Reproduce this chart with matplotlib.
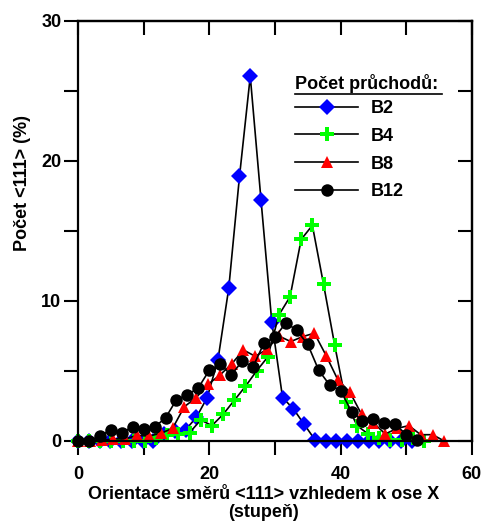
import matplotlib
matplotlib.use("Agg")
import matplotlib.pyplot as plt
from matplotlib.lines import Line2D

# ===============================
# Data
# ===============================
x_b2 = [0.0, 1.64, 3.28, 4.92, 6.56, 8.2, 9.84, 11.48, 13.12, 14.76, 16.4, 18.04,
        19.68, 21.32, 22.96, 24.6, 26.24, 27.88, 29.52, 31.16, 32.8, 34.44, 36.08,
        37.72, 39.36, 41.0, 42.64, 44.28, 45.92, 47.56, 49.2, 50.84]
y_b2 = [0, 0, 0, 0, 0, 0, 0, 0, 0.5, 0.7, 0.8, 1.7, 3.1, 5.8, 10.9, 18.9, 26.05,
        17.2, 8.5, 3.1, 2.3, 1.2, 0.1, 0, 0, 0, 0, 0, 0, 0, 0, 0]

x_b4 = [0.0, 1.7, 3.4, 5.1, 6.8, 8.5, 10.2, 11.9, 13.6, 15.3, 17.0, 18.7, 20.4,
        22.1, 23.8, 25.5, 27.2, 28.9, 30.6, 32.3, 34.0, 35.7, 37.4, 39.1, 40.8,
        42.5, 44.2, 45.9, 47.6, 49.3, 51.0, 52.7]
y_b4 = [0, 0, 0, 0, 0, 0, 0, 0.2, 0.4, 0.5, 0.6, 1.5, 1.1, 1.9, 2.9, 3.9, 5.0,
        6.0, 9.0, 10.3, 14.4, 15.4, 11.2, 6.85, 2.8, 1.1, 0.5, 0.2, 0.1, 0.1,
        0.2, 0]

x_b8 = [0.0, 1.8, 3.6, 5.4, 7.2, 9.0, 10.8, 12.6, 14.4, 16.2, 18.0, 19.8, 21.6,
        23.4, 25.2, 27.0, 28.8, 30.6, 32.4, 34.2, 36.0, 37.8, 39.6, 41.4, 43.2,
        45.0, 46.8, 48.6, 50.4, 52.2, 54.0, 55.8]
y_b8 = [0, 0, 0.05, 0.15, 0.15, 0.4, 0.35, 0.55, 0.9, 2.45, 3.1, 4.05, 4.7, 5.5,
        6.5, 6.05, 6.55, 7.5, 7.1, 7.45, 7.7, 6.1, 4.35, 3.5, 1.9, 1.3, 0.5, 0.9,
        1.1, 0.45, 0.45, 0]

x_b12 = [0.0, 1.67, 3.33, 5.0, 6.67, 8.33, 10.0, 11.67, 13.33, 15.0, 16.67,
         18.33, 20.0, 21.67, 23.33, 25.0, 26.67, 28.33, 30.0, 31.67, 33.33, 35.0,
         36.67, 38.33, 40.0, 41.67, 43.33, 45.0, 46.67, 48.33, 50.0, 51.67]
y_b12 = [0, 0, 0.35, 0.8, 0.6, 1.0, 0.85, 1.0, 1.65, 2.95, 3.3, 3.8, 5.05, 5.5,
         4.7, 5.7, 5.3, 7.0, 7.4, 8.45, 7.9, 6.9, 5.05, 4.0, 3.6, 2.1, 1.45, 1.55,
         1.25, 1.2, 0.45, 0.1]

labels = ["B2", "B4", "B8", "B12"]
colors = ["#0000ff", "#00ff00", "#ff0000", "#000000"]
markers = ["D", "P", "^", "o"]
sizes = [8, 9.5, 9, 9]

x_label = "Orientace směrů <111> vzhledem k ose X\n(stupeň)"
y_label = "Počet <111> (%)"
legend_title = "Počet průchodů:"

# ===============================
# Plot
# ===============================
plt.rcParams["font.family"] = ["Liberation Sans", "DejaVu Sans"]
plt.rcParams["font.weight"] = "bold"

fig = plt.figure(figsize=(4.83, 5.24), dpi=100)
ax = fig.add_axes([0.1615, 0.1584, 0.8155, 0.8016])

series = [(x_b2, y_b2), (x_b4, y_b4), (x_b8, y_b8), (x_b12, y_b12)]
for (xs, ys), lab, c, m, s in zip(series, labels, colors, markers, sizes):
    ax.plot(xs, ys, color="black", lw=1.2, marker=m, ms=s, mfc=c, mec=c,
            mew=0, label=lab, clip_on=False)

ax.set_xlim(0, 60)
ax.set_ylim(0, 30)
ax.set_xticks([0, 20, 40, 60])
ax.set_xticks([10, 30, 50], minor=True)
ax.set_yticks([0, 10, 20, 30])
ax.set_yticks([5, 15, 25], minor=True)

for sp in ax.spines.values():
    sp.set_linewidth(1.6)

ax.tick_params(which="both", direction="out", length=10, width=1.5,
               labelsize=13)
ax.tick_params(axis="x", which="both", pad=8)
ax.tick_params(axis="y", which="both", pad=2)

# inward ticks on top and right
top = ax.secondary_xaxis("top")
top.set_xticks([0, 10, 20, 30, 40, 50, 60])
top.tick_params(direction="in", length=10, width=1.5, labeltop=False)
right = ax.secondary_yaxis("right")
right.set_yticks([0, 5, 10, 15, 20, 25, 30])
right.tick_params(direction="in", length=10, width=1.5, labelright=False)
top.spines["top"].set_linewidth(1.6)
right.spines["right"].set_linewidth(1.6)

ax.set_xlabel(x_label, fontsize=13, fontweight="bold", linespacing=1.05)
ax.xaxis.set_label_coords(0.472, -0.108, transform=ax.transAxes)
ax.xaxis.label.set_va("top")
ax.set_ylabel(y_label, fontsize=13, fontweight="bold")
ax.yaxis.set_label_coords(-0.142, 0.614, transform=ax.transAxes)
ax.yaxis.label.set_va("center")

leg = ax.legend(loc="upper left", bbox_to_anchor=(0.551, 0.812),
                frameon=False, fontsize=13, handlelength=3.5,
                handletextpad=0.7, labelspacing=0.6, borderpad=0,
                borderaxespad=0, numpoints=1)

ax.text(0.551, 0.85, legend_title, transform=ax.transAxes, fontsize=13,
        fontweight="bold", va="center", ha="left")
ax.add_line(Line2D([0.551, 0.923], [0.825, 0.825], transform=ax.transAxes,
                   color="black", lw=1.2))

fig.savefig("out.png", dpi=100)
